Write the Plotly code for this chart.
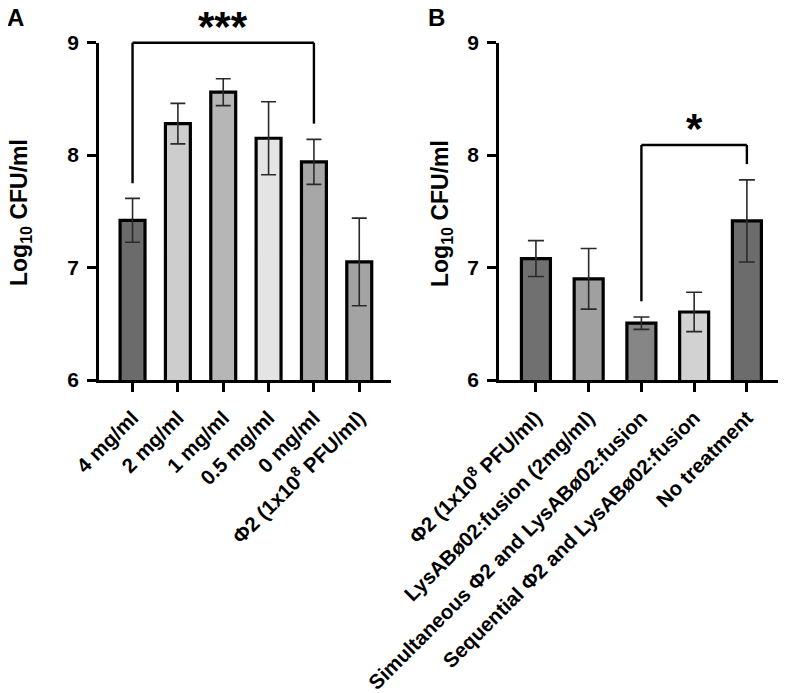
import plotly.graph_objects as go

# ---------------- data ----------------
cats_a = ["4 mg/ml", "2 mg/ml", "1 mg/ml", "0.5 mg/ml", "0 mg/ml",
          "Φ2 (1x10<sup>8</sup> PFU/ml)"]
vals_a = [7.42, 8.28, 8.56, 8.15, 7.94, 7.05]
sd_a = [0.195, 0.18, 0.12, 0.325, 0.20, 0.39]
colors_a = ["#6b6b6b", "#cdcdcd", "#b6b6b6", "#e4e4e4", "#a7a7a7", "#a3a3a3"]

cats_b = ["Φ2 (1x10<sup>8</sup> PFU/ml)", "LysABø02:fusion (2mg/ml)",
          "Simultaneous Φ2 and LysABø02:fusion",
          "Sequential Φ2 and LysABø02:fusion", "No treatment"]
vals_b = [7.08, 6.90, 6.505, 6.605, 7.415]
sd_b = [0.16, 0.27, 0.055, 0.175, 0.365]
colors_b = ["#707070", "#a0a0a0", "#868686", "#d2d2d2", "#6c6c6c"]

y_ticks = [6, 7, 8, 9]
# significance brackets: (left idx, right idx, top, left foot, right foot, label)
bracket_a = (0, 4, 9.0, 7.75, 8.28, "***")
bracket_b = (2, 4, 8.09, 6.70, 7.92, "*")

# ---------------- layout constants ----------------
OFF = 8                      # browser body margin
W, H = 786 - OFF, 693 - OFF  # figure size
FONT = "Liberation Sans, Arial, sans-serif"


def fx(px):
    return (px - OFF) / W


def fy(py):
    return 1 - (py - OFF) / H


range_a = [-0.74, 5.70]
range_b = [-0.70, 4.66]
yrange = [6, 9]
dom_y = [fy(380), fy(42.7)]
dom_xa = [fx(99), fx(391)]
dom_xb = [fx(499), fx(781.7)]

fig = go.Figure()


def add_bars(cats, vals, sd, colors, xa, ya, cap):
    fig.add_trace(go.Bar(
        x=cats, y=vals, xaxis=xa, yaxis=ya, width=0.55,
        marker=dict(color=colors, line=dict(color="black", width=3.2)),
        error_y=dict(type="data", array=sd, visible=True, color="#2a2a2a",
                     thickness=1.6, width=cap),
        showlegend=False, hoverinfo="skip"))


add_bars(cats_a, vals_a, sd_a, colors_a, "x", "y", 7.5)
add_bars(cats_b, vals_b, sd_b, colors_b, "x2", "y2", 8)


def xd(i, rng):
    return (i - rng[0]) / (rng[1] - rng[0])


def yd(v):
    return (v - yrange[0]) / (yrange[1] - yrange[0])


shapes = []
annotations = []


def bracket(b, rng, xref, yref):
    i0, i1, top, f0, f1, label = b
    ln = dict(color="black", width=2.4)
    for (xa0, ya0, xa1, ya1) in [
        (xd(i0, rng), yd(top), xd(i1, rng), yd(top)),
        (xd(i0, rng), yd(top), xd(i0, rng), yd(f0)),
        (xd(i1, rng), yd(top), xd(i1, rng), yd(f1)),
    ]:
        shapes.append(dict(type="line", xref=xref + " domain", yref=yref + " domain",
                           x0=xa0, y0=ya0, x1=xa1, y1=ya1, line=ln))
    annotations.append(dict(text="<b>" + label + "</b>", xref=xref, yref=yref,
                            x=(i0 + i1) / 2, y=top, yshift=-9, showarrow=False,
                            font=dict(family=FONT, size=42, color="black"),
                            xanchor="center", yanchor="bottom"))


bracket(bracket_a, range_a, "x", "y")
bracket(bracket_b, range_b, "x2", "y2")

# panel letters and y titles
for txt, px in [("A", 16), ("B", 437)]:
    annotations.append(dict(text="<b>" + txt + "</b>", xref="paper", yref="paper",
                            x=fx(px), y=fy(17), showarrow=False,
                            font=dict(family=FONT, size=24, color="black"),
                            xanchor="center", yanchor="middle"))
for px in [21, 442]:
    annotations.append(dict(text="<b>Log<sub>10</sub> CFU/ml</b>", xref="paper",
                            yref="paper", x=fx(px), y=fy(213), textangle=-90,
                            showarrow=False,
                            font=dict(family=FONT, size=23, color="black"),
                            xanchor="center", yanchor="middle"))

axis_common = dict(showline=True, linecolor="black", linewidth=2.6, ticks="outside",
                   ticklen=9, tickwidth=2.6, tickcolor="black", showgrid=False,
                   zeroline=False, automargin=False)
xfont = dict(family=FONT, size=20.5, color="black", weight="bold")
yfont = dict(family=FONT, size=21, color="black", weight="bold")

fig.update_layout(
    template="none",
    width=W, height=H, margin=dict(l=0, r=0, t=0, b=0, autoexpand=False),
    paper_bgcolor="white", plot_bgcolor="white", bargap=0.45,
    xaxis=dict(domain=dom_xa, range=range_a, tickangle=-45, tickfont=xfont,
               anchor="y", ticklabelstandoff=6, **axis_common),
    yaxis=dict(domain=dom_y, range=yrange, tickvals=y_ticks, tickfont=yfont,
               anchor="x", ticklabelstandoff=4, **axis_common),
    xaxis2=dict(domain=dom_xb, range=range_b, tickangle=-45, tickfont=xfont,
                anchor="y2", ticklabelstandoff=6, **axis_common),
    yaxis2=dict(domain=dom_y, range=yrange, tickvals=y_ticks, tickfont=yfont,
                anchor="x2", ticklabelstandoff=4, **axis_common),
    shapes=shapes, annotations=annotations,
)

fig.write_html("out.html")
